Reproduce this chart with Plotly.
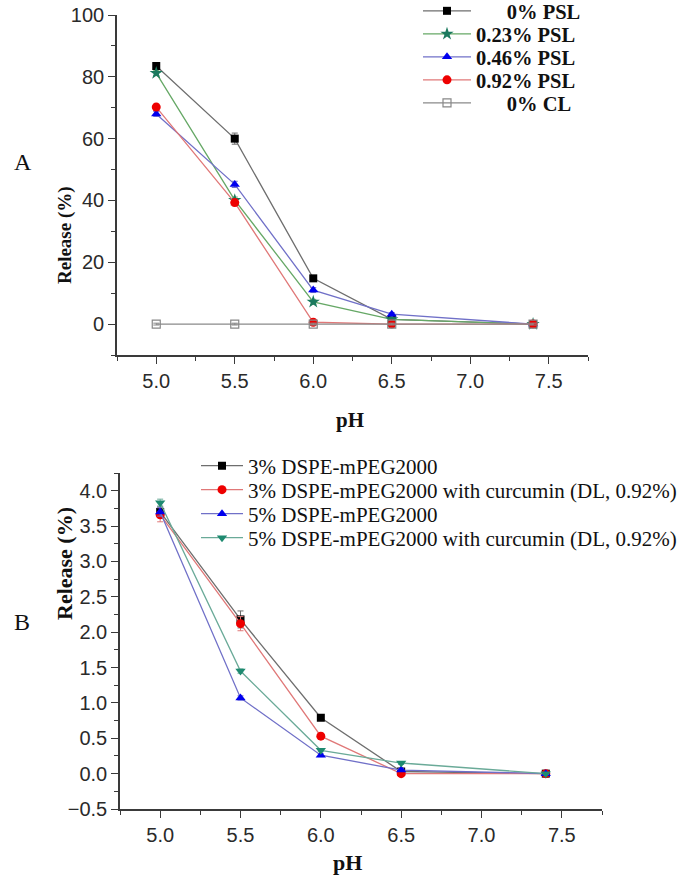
import plotly.graph_objects as go

ph = [5.0, 5.5, 6.0, 6.5, 7.4]

# Panel A: release (%) by PSL content
a_names = ["\u00a0" * 6 + "0% PSL", "0.23% PSL", "0.46% PSL", "0.92% PSL", "\u00a0" * 6 + "0% CL"]
a_psl0 = [83.5, 60.0, 14.8, 1.5, 0.0]
a_psl023 = [81.2, 40.1, 7.2, 1.5, 0.0]
a_psl046 = [68.0, 45.2, 11.0, 3.2, 0.0]
a_psl092 = [70.2, 39.3, 0.6, 0.0, 0.0]
a_cl0 = [0.0, 0.0, 0.0, 0.0, 0.0]
a_err0 = [1.0, 1.8, 0.8, 0.5, 0.3]
a_err023 = [0.8, 1.0, 0.8, 0.5, 0.3]
a_err046 = [0.8, 1.0, 0.8, 0.5, 0.3]
a_err092 = [1.0, 1.0, 0.5, 0.3, 0.3]
a_errcl = [0.3, 0.3, 0.3, 0.3, 0.3]

# Panel B: release (%) by DSPE-mPEG2000 content
b_names = ["3% DSPE-mPEG2000", "3% DSPE-mPEG2000 with curcumin (DL, 0.92%)",
           "5% DSPE-mPEG2000", "5% DSPE-mPEG2000 with curcumin (DL, 0.92%)"]
b_3 = [3.70, 2.18, 0.79, 0.03, 0.0]
b_3c = [3.66, 2.12, 0.53, 0.00, 0.0]
b_5 = [3.70, 1.07, 0.26, 0.05, 0.0]
b_5c = [3.83, 1.45, 0.33, 0.15, 0.0]
b_err3 = [0.08, 0.12, 0.03, 0.02, 0.01]
b_err3c = [0.10, 0.10, 0.04, 0.02, 0.01]
b_err5 = [0.06, 0.03, 0.02, 0.02, 0.01]
b_err5c = [0.05, 0.03, 0.02, 0.02, 0.01]

W, H = 685, 889
SERIF = "Liberation Serif, Times New Roman, serif"
SANS = "Liberation Sans, Arial, sans-serif"

fig = go.Figure()

a_styles = [
    (a_psl0, a_err0, "square", "#000000", "#6e6e6e", 8),
    (a_psl023, a_err023, "star", "#1b7a5e", "#66a866", 10),
    (a_psl046, a_err046, "triangle-up", "#0000ee", "#7070c8", 9),
    (a_psl092, a_err092, "circle", "#ee0000", "#e07878", 9),
    (a_cl0, a_errcl, "square-open", "#888888", "#8a8a8a", 8),
]
a_rows = [11, 34, 57, 80, 103]
b_rows = [466, 490, 514, 538]
legend_defs = {}
for i, (name, (vals, err, sym, mc, lc, sz)) in enumerate(zip(a_names, a_styles)):
    lid = "legend" if i == 0 else f"legend{i + 1}"
    legend_defs[lid] = dict(x=418 / W, y=1 - a_rows[i] / H, xanchor="left", yanchor="middle",
                            itemwidth=48, bgcolor="rgba(0,0,0,0)", borderwidth=0,
                            font=dict(family=SERIF, size=20.5, color="#111111", weight="bold"))
    fig.add_trace(go.Scatter(
        x=ph, y=vals, name=name, mode="lines+markers",
        xaxis="x", yaxis="y", legend=lid,
        line=dict(color=lc, width=1.3),
        marker=dict(symbol=sym, size=sz, color=mc,
                    line=dict(color=mc, width=1.2 if sym == "square-open" else 0)),
        error_y=dict(type="data", array=err, color=lc, thickness=1, width=3),
    ))

b_styles = [
    (b_3, b_err3, "square", "#000000", "#6e6e6e", 8),
    (b_3c, b_err3c, "circle", "#ee0000", "#e07878", 9),
    (b_5, b_err5, "triangle-up", "#0000ee", "#7070c8", 9),
    (b_5c, b_err5c, "triangle-down", "#1e8a70", "#6aaa98", 9),
]
for j, (name, (vals, err, sym, mc, lc, sz)) in enumerate(zip(b_names, b_styles)):
    lid = f"legend{6 + j}"
    legend_defs[lid] = dict(x=196 / W, y=1 - b_rows[j] / H, xanchor="left", yanchor="middle",
                            itemwidth=42, bgcolor="rgba(0,0,0,0)", borderwidth=0,
                            font=dict(family=SERIF, size=21, color="#111111"))
    fig.add_trace(go.Scatter(
        x=ph, y=vals, name=name, mode="lines+markers",
        xaxis="x2", yaxis="y2", legend=lid,
        line=dict(color=lc, width=1.3),
        marker=dict(symbol=sym, size=sz, color=mc, line=dict(width=0)),
        error_y=dict(type="data", array=err, color=lc, thickness=1, width=3),
    ))

axis_common = dict(
    showline=True, linecolor="#3a3a3a", linewidth=1.6, showgrid=False, zeroline=False,
    ticks="outside", ticklen=7, tickwidth=1.4, tickcolor="#3a3a3a",
    tickfont=dict(family=SANS, size=20, color="#2a2a2a"),
)

fig.update_layout(
    width=W, height=H, margin=dict(l=0, r=0, t=0, b=0, autoexpand=False),
    paper_bgcolor="white", plot_bgcolor="white", showlegend=True,
    xaxis=dict(domain=[117 / W, 588 / W], range=[4.75, 7.75], anchor="y",
               tick0=5.0, dtick=0.5, tickformat=".1f",
               minor=dict(ticks="outside", dtick=0.25, ticklen=4, tickcolor="#3a3a3a"),
               **axis_common),
    yaxis=dict(domain=[1 - 355 / H, 1 - 15 / H], range=[-10, 100], anchor="x",
               tick0=0, dtick=20,
               minor=dict(ticks="outside", dtick=10, ticklen=4, tickcolor="#3a3a3a"),
               **axis_common),
    xaxis2=dict(domain=[120 / W, 602 / W], range=[4.75, 7.75], anchor="y2",
                tick0=5.0, dtick=0.5, tickformat=".1f",
                minor=dict(ticks="outside", dtick=0.25, ticklen=4, tickcolor="#3a3a3a"),
                **axis_common),
    yaxis2=dict(domain=[1 - 809 / H, 1 - 473 / H], range=[-0.5, 4.25], anchor="x2",
                tick0=0, dtick=0.5, tickformat=".1f",
                minor=dict(ticks="outside", dtick=0.25, ticklen=4, tickcolor="#3a3a3a"),
                **axis_common),
    annotations=[
        dict(text="A", x=12 / W, y=1 - 147 / H, xref="paper", yref="paper",
             showarrow=False, font=dict(family=SERIF, size=24, color="#111111")),
        dict(text="B", x=12 / W, y=1 - 637 / H, xref="paper", yref="paper",
             showarrow=False, font=dict(family=SERIF, size=24, color="#111111")),
        dict(text="<b>Release (%)</b>", x=52 / W, y=1 - 184 / H, xref="paper", yref="paper",
             textangle=-90, showarrow=False, font=dict(family=SERIF, size=19, color="#111111")),
        dict(text="<b>Release (%)</b>", x=50 / W, y=1 - 622 / H, xref="paper", yref="paper",
             textangle=-90, showarrow=False, font=dict(family=SERIF, size=22, color="#111111")),
        dict(text="<b>pH</b>", x=350 / W, y=1 - 420 / H, xref="paper", yref="paper",
             showarrow=False, font=dict(family=SERIF, size=21, color="#111111")),
        dict(text="<b>pH</b>", x=347 / W, y=1 - 877 / H, xref="paper", yref="paper",
             showarrow=False, font=dict(family=SERIF, size=22, color="#111111")),
    ],
)
fig.update_layout(**legend_defs)

fig.write_html("out.html", config={"displayModeBar": False},
               post_script="document.body.style.margin='0px';")
